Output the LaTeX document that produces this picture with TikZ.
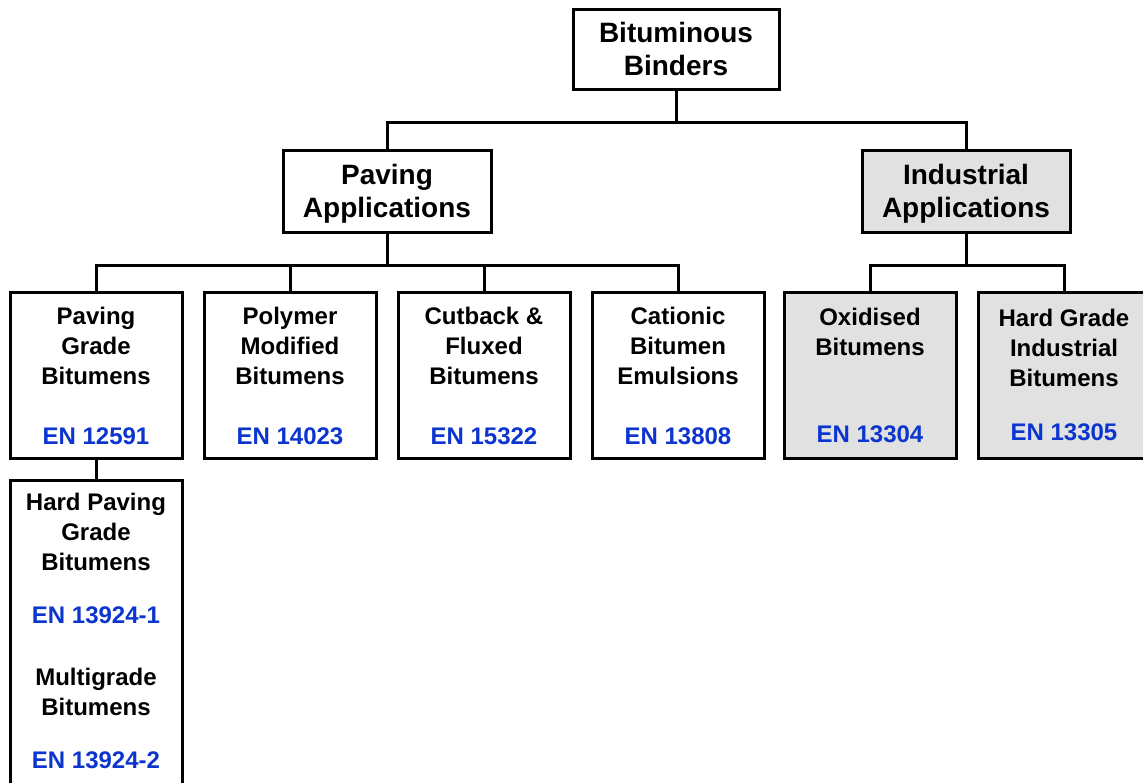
\documentclass[tikz,border=0pt]{standalone}
\usepackage{fontspec}
\setmainfont{Liberation Sans}

\definecolor{enblue}{RGB}{12,52,206}
\definecolor{indgray}{RGB}{225,225,225}
\newcommand{\en}[1]{\textcolor{enblue}{#1}}

\begin{document}
\begin{tikzpicture}[x=1pt, y=-1pt,
    every node/.style={align=center, inner sep=0pt},
    box/.style={draw, line width=3pt, rectangle},
    bigtxt/.style={font=\bfseries\fontsize{28}{33}\selectfont},
    smalltxt/.style={font=\bfseries\fontsize{24}{30}\selectfont},
    big/.style={box, bigtxt},
    small/.style={box, smalltxt, minimum width=172pt, minimum height=166pt},
    grey/.style={fill=indgray},
    conn/.style={line width=3pt}]

\fill[white] (0,0) rectangle (1143,782);
\useasboundingbox (0,0) rectangle (1143,782);

\node[big, minimum width=206pt, minimum height=80pt] (bb) at (676,49) {Bituminous\\Binders};

\node[big, minimum width=208pt, minimum height=82pt] (pav) at (387,191) {Paving\\\smash{Applications}};
\node[big, grey, minimum width=208pt, minimum height=82pt] (ind) at (966,191) {Industrial\\\smash{Applications}};

\node[small] (pgb) at (96,375.5) {Paving\\Grade\\Bitumens\\[30pt]\en{EN 12591}};
\node[small] (pmb) at (290,375.5) {Polymer\\Modified\\Bitumens\\[30pt]\en{EN 14023}};
\node[small] (cfb) at (484,375.5) {Cutback \&\\Fluxed\\Bitumens\\[30pt]\en{EN 15322}};
\node[small] (cbe) at (678,375.5) {Cationic\\Bitumen\\Emulsions\\[30pt]\en{EN 13808}};

\node[small, grey] (oxb) at (870,375) {Oxidised\\Bitumens\\[57pt]\en{EN 13304}};
\node[small, grey] (hgb) at (1064,375) {Hard Grade\\Industrial\\Bitumens\\[24pt]\en{EN 13305}};

% box runs past the bottom edge
\node[box, minimum width=172pt, minimum height=330pt, anchor=north] (hpg) at (96,479) {};
\node[smalltxt, anchor=north] (hpgtxt) at (96,493) {Hard Paving\\Grade\\Bitumens\\[23pt]\en{EN 13924-1}\\[32pt]Multigrade\\Bitumens\\[23pt]\en{EN 13924-2}};

\draw[conn] (bb.south) -- ++(0,32) -| (pav.north);
\draw[conn] (bb.south) -- ++(0,32) -| (ind.north);

\foreach \n in {pgb, pmb, cfb, cbe}
    \draw[conn] (pav.south) -- ++(0,32) -| (\n.north);
\foreach \n in {oxb, hgb}
    \draw[conn] (ind.south) -- ++(0,32) -| (\n.north);

\draw[conn] (pgb) -- (hpg);

\end{tikzpicture}
\end{document}
